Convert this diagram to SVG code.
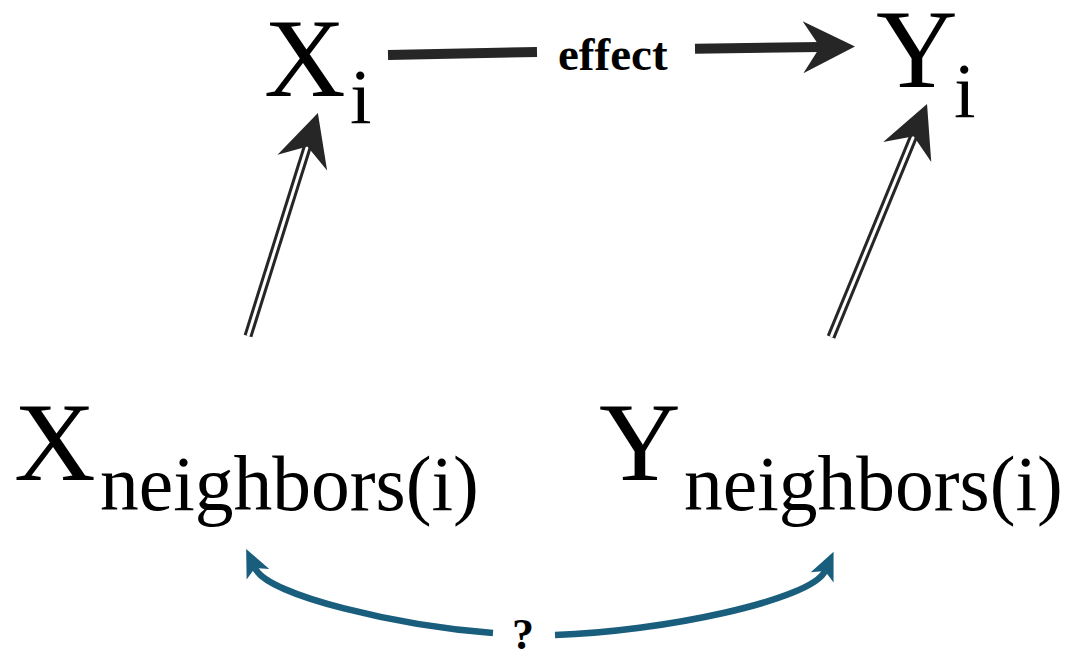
<svg xmlns="http://www.w3.org/2000/svg" width="1068" height="652" viewBox="0 0 1068 652">
<style>
text{font-family:'Liberation Serif','Times New Roman',serif;fill:#000}
.big{font-size:113px}
.sub{font-size:77.5px}
.lbl{font-weight:bold}
.dark{fill:none;stroke:#262626;stroke-width:10}
.dbl{fill:none;stroke:#262626;stroke-width:9}
.dblin{fill:none;stroke:#fff;stroke-width:3}
.blue{fill:none;stroke:#1a5e7e;stroke-width:6.5}
</style>
<defs>
<marker id="ah" markerUnits="userSpaceOnUse" markerWidth="60" markerHeight="60" refX="17" refY="0" orient="auto" overflow="visible" viewBox="0 -30 60 60">
<path d="M0,-26 L52,0 L0,26 L17,0 Z" fill="#262626"/>
</marker>
<marker id="bh" markerUnits="userSpaceOnUse" markerWidth="40" markerHeight="40" refX="7" refY="0" orient="auto" overflow="visible" viewBox="0 -20 40 40">
<path d="M0,-12.5 L28,0 L0,12.5 L7,0 Z" fill="#1a5e7e"/>
</marker>
</defs>
<g id="connectors">
<g id="edge-effect">
<path class="dark" d="M388,55 L537,52"/>
<path class="dark" d="M695,48.8 L820,47" marker-end="url(#ah)"/>
<text class="lbl" x="558" y="70" font-size="47">effect</text>
</g>
<g id="edge-xn-xi">
<path class="dbl" d="M248,336 L307.4,146.4"/>
<path class="dblin" d="M248,336 L307.4,146.4" marker-end="url(#ah)"/>
</g>
<g id="edge-yn-yi">
<path class="dbl" d="M831,337 L913.7,136.3"/>
<path class="dblin" d="M831,337 L913.7,136.3" marker-end="url(#ah)"/>
</g>
<g id="edge-question">
<path class="blue" d="M493,633 C400,626 268,596 255,568" marker-end="url(#bh)"/>
<path class="blue" d="M555,635 C660,632 812,600 825,571" marker-end="url(#bh)"/>
<text class="lbl" x="523" y="649" font-size="44" text-anchor="middle">?</text>
</g>
</g>
<g id="node-xi">
<text class="big" x="264" y="96">X</text>
<text class="sub" x="350" y="123">i</text>
</g>
<g id="node-yi">
<text class="big" x="876" y="87">Y</text>
<text class="sub" x="954" y="117">i</text>
</g>
<g id="node-xn">
<text class="big" x="14" y="480">X</text>
<text class="sub" x="100" y="510">neighbors(i)</text>
</g>
<g id="node-yn">
<text class="big" x="599" y="480">Y</text>
<text class="sub" x="684" y="510">neighbors(i)</text>
</g>
</svg>
